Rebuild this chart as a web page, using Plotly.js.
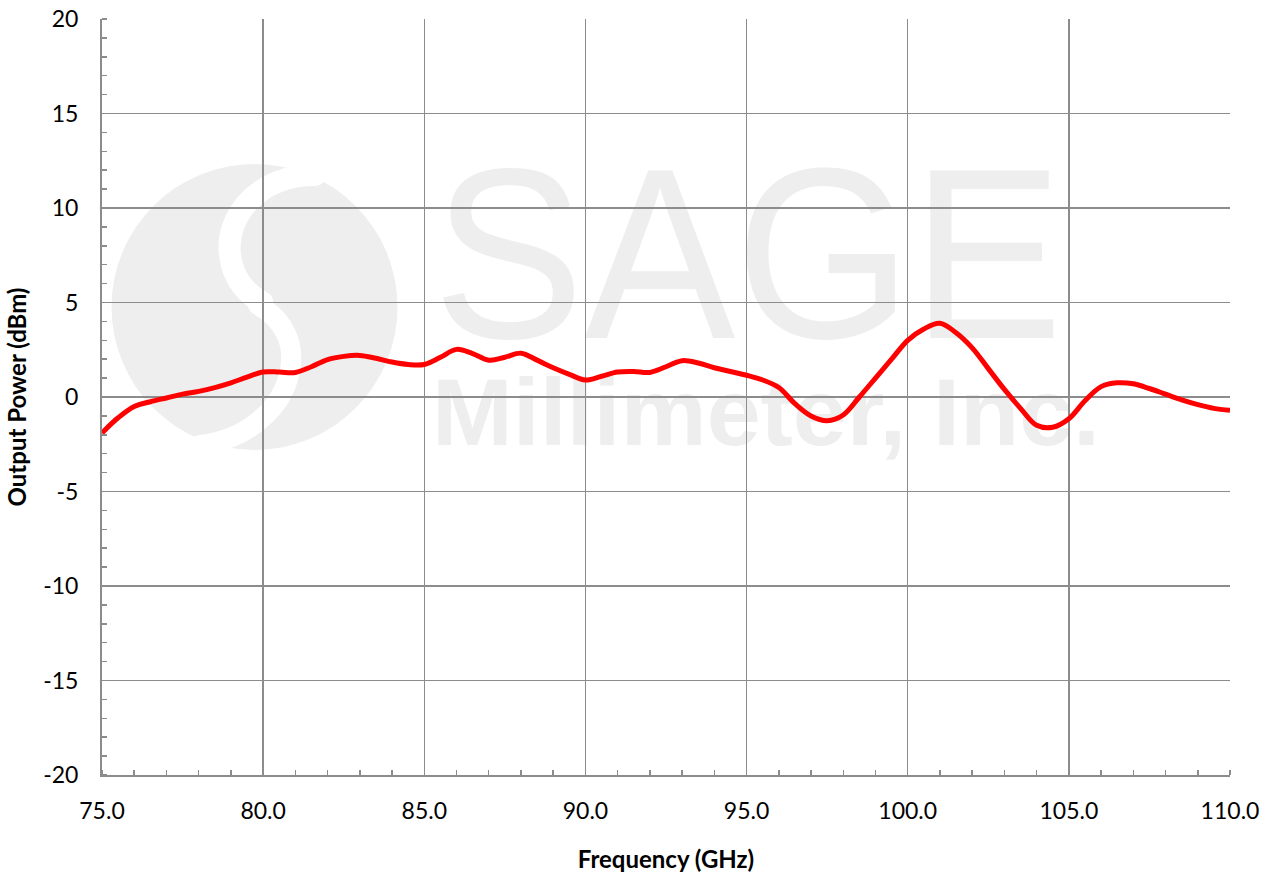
<!DOCTYPE html>
<html>
<head>
<meta charset="utf-8">
<script src="https://cdn.plot.ly/plotly-3.0.1.min.js"></script>
<style>html,body{margin:0;padding:0;background:#fff;}#chart{width:1273px;height:873px;}</style>
</head>
<body>
<div id="chart"></div>
<script>
const frequency = [75,75.5,76,76.5,77,77.5,78,78.5,79,79.5,80,80.5,81,81.5,82,82.5,83,83.5,84,84.5,85,85.5,86,86.5,87,87.5,88,88.5,89,89.5,90,90.5,91,91.5,92,92.5,93,93.5,94,94.5,95,95.5,96,96.5,97,97.5,98,98.5,99,99.5,100,100.5,101,101.5,102,102.5,103,103.5,104,104.5,105,105.5,106,106.5,107,107.5,108,108.5,109,109.5,110];
const outputPower = [-1.9,-1.1,-0.5,-0.25,-0.05,0.15,0.3,0.5,0.75,1.05,1.32,1.32,1.3,1.6,1.98,2.15,2.2,2.05,1.85,1.72,1.72,2.1,2.52,2.3,1.95,2.1,2.32,1.95,1.55,1.2,0.9,1.1,1.32,1.35,1.3,1.6,1.92,1.8,1.55,1.35,1.15,0.9,0.5,-0.35,-1.0,-1.25,-0.95,0.0,1.0,2.0,3.0,3.6,3.9,3.4,2.6,1.5,0.4,-0.6,-1.5,-1.6,-1.15,-0.2,0.55,0.75,0.7,0.45,0.15,-0.15,-0.4,-0.6,-0.7];
const xTickVals = [75,80,85,90,95,100,105,110];
const xTickText = ['75.0','80.0','85.0','90.0','95.0','100.0','105.0','110.0'];
const yTickVals = [-20,-15,-10,-5,0,5,10,15,20];
const yTickText = ['-20','-15','-10','-5','0','5','10','15','20'];

const wm = '<svg xmlns="http://www.w3.org/2000/svg" width="1128" height="756" viewBox="0 0 1128 756">' +
  '<circle cx="152.5" cy="288" r="143" fill="#eeeeee"/>' +
  '<path d="M 213 156 C 158 156 123 196 128 236 C 131 261 146 276 160 283" fill="none" stroke="#ffffff" stroke-width="22" stroke-linecap="round"/>' +
  '<path d="M 156 286 C 183 301 193 326 188 351 C 181 391 143 421 98 426" fill="none" stroke="#ffffff" stroke-width="20" stroke-linecap="round"/>' +
  '<text x="331" y="319" font-family="Liberation Sans, Arial" font-size="244" fill="#eeeeee" textLength="630" lengthAdjust="spacingAndGlyphs">SAGE</text>' +
  '<text x="330" y="426" font-family="Liberation Sans, Arial" font-weight="bold" font-size="94" fill="#eeeeee" textLength="668" lengthAdjust="spacingAndGlyphs">Millimeter, Inc.</text>' +
  '</svg>';
const wmUri = 'data:image/svg+xml;charset=utf-8,' + encodeURIComponent(wm);

const trace = {
  x: frequency,
  y: outputPower,
  type: 'scatter',
  mode: 'lines',
  line: {color: '#ff0000', width: 5, shape: 'spline', smoothing: 1},
  hoverinfo: 'x+y'
};

const layout = {
  width: 1273,
  height: 873,
  margin: {l: 102, r: 43, t: 19, b: 98},
  paper_bgcolor: '#ffffff',
  plot_bgcolor: '#ffffff',
  showlegend: false,
  font: {family: 'Lato, "Open Sans", sans-serif', size: 23, color: '#000000'},
  xaxis: {
    range: [75, 110],
    tickvals: xTickVals,
    ticktext: xTickText,
    showgrid: true,
    gridcolor: '#8c8c8c',
    gridwidth: 1.5,
    zeroline: false,
    showline: true,
    linecolor: '#8c8c8c',
    linewidth: 2,
    ticks: '',
    ticklabelstandoff: 14,
    minor: {dtick: 1, ticks: 'inside', ticklen: 5, tickcolor: '#8c8c8c', tickwidth: 1.5, showgrid: false},
    title: {text: '<b>Frequency (GHz)</b>', font: {size: 24}, standoff: 30},
    fixedrange: true
  },
  yaxis: {
    range: [-20, 20],
    tickvals: yTickVals,
    ticktext: yTickText,
    showgrid: true,
    gridcolor: '#8c8c8c',
    gridwidth: 1.5,
    zeroline: false,
    showline: true,
    linecolor: '#8c8c8c',
    linewidth: 2,
    ticks: '',
    ticklabelstandoff: 17,
    minor: {dtick: 1, ticks: 'inside', ticklen: 5, tickcolor: '#8c8c8c', tickwidth: 1.5, showgrid: false},
    title: {text: '<b>Output Power (dBm)</b>', font: {size: 24}, standoff: 10},
    fixedrange: true
  },
  images: [{
    source: wmUri,
    xref: 'paper', yref: 'paper',
    x: 0, y: 1, sizex: 1, sizey: 1,
    xanchor: 'left', yanchor: 'top',
    sizing: 'stretch',
    layer: 'below'
  }]
};

Plotly.newPlot('chart', [trace], layout, {displayModeBar: false, staticPlot: true});
</script>
</body>
</html>
